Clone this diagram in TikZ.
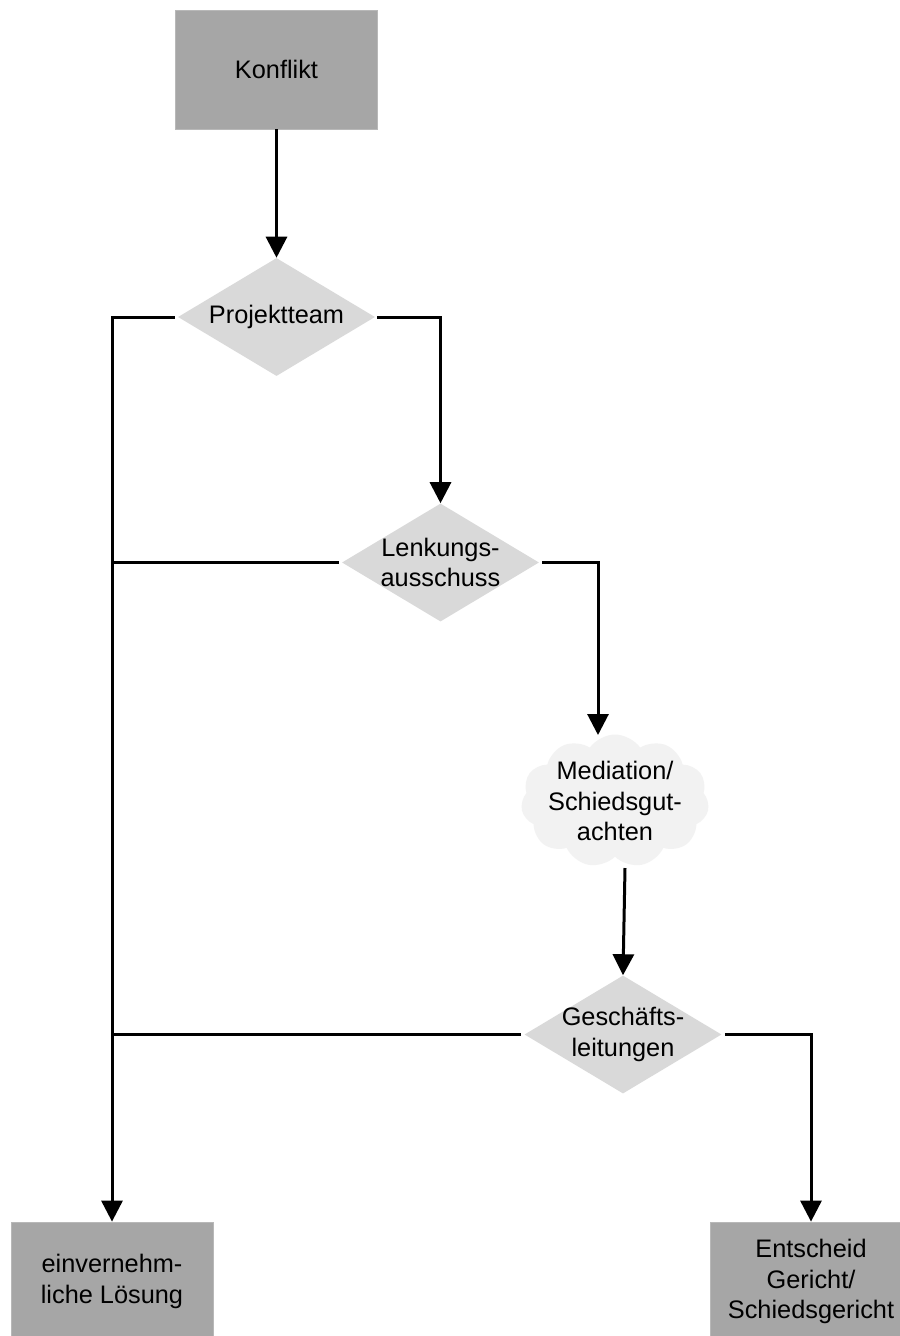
\documentclass[tikz,border=0pt]{standalone}
\usepackage{fontspec}
\setmainfont{Liberation Sans}
\usetikzlibrary{shapes.geometric,shapes.symbols,arrows.meta}
\definecolor{boxgray}{HTML}{A6A6A6}
\definecolor{diagray}{HTML}{D9D9D9}
\definecolor{cloudgray}{HTML}{F2F2F2}
\tikzset{
  txt/.style={font=\fontsize{19pt}{23pt}\selectfont, align=center, text=black},
  endbox/.style={rectangle, fill=boxgray, draw=boxgray!80!white, line width=0.6pt, minimum width=151.5pt, minimum height=89.25pt, inner sep=0pt, txt},
  dia/.style={diamond, fill=diagray, inner sep=0pt, minimum width=147.75pt, minimum height=88.5pt},
  cloudy/.style={cloud, cloud puffs=11, cloud puff arc=110, fill=cloudgray, inner sep=0pt, minimum width=141pt, minimum height=99.75pt, aspect=1.4},
  conn/.style={line width=2.25pt, -{Triangle[width=15.75pt,length=15.75pt]}},
  plain/.style={line width=2.25pt},
}
\begin{document}
\begin{tikzpicture}[x=0.75pt, y=-0.75pt]
\useasboundingbox (0,0) rectangle (900,1336);
\fill[white] (0,0) rectangle (900,1336);
% boxes
\node[endbox] (konf) at (276.5,69.5) {Konflikt};
\node[endbox] (einv) at (112,1281.5) {einvernehm-\\liche Lösung};
\node[endbox] (ents) at (811,1281.5) {Entscheid\\Gericht/\\Schiedsgericht};
% diamonds
\node[dia, label={[txt]center:Projektteam}] (pt) at (276.5,317) {};
\node[dia, label={[txt]center:Lenkungs-\\ausschuss}] (la) at (440.5,562.5) {};
\node[dia, label={[txt]center:Geschäfts-\\leitungen}] (gl) at (623,1034.5) {};
% cloud
\node[cloudy, label={[txt]center:Mediation/\\Schiedsgut-\\achten}] (med) at (615,801) {};
\coordinate (medin) at (598,735);
\coordinate (medout) at (625,868);
% connectors
\draw[conn] (konf.south) -- (pt.north);
\draw[conn] ([xshift=-2.25pt]pt.west) -| (einv.north);
\draw[conn] ([xshift=1.5pt]pt.east) -| (la.north);
\draw[plain] ([xshift=-2.25pt]la.west) -- (la.west -| einv.north);
\draw[conn] ([xshift=2.25pt]la.east) -| (medin);
\draw[conn] (medout) -- (gl.north);
\draw[plain] ([xshift=-2.25pt]gl.west) -- (gl.west -| einv.north);
\draw[conn] ([xshift=2.25pt]gl.east) -| (ents.north);
\end{tikzpicture}
\end{document}
